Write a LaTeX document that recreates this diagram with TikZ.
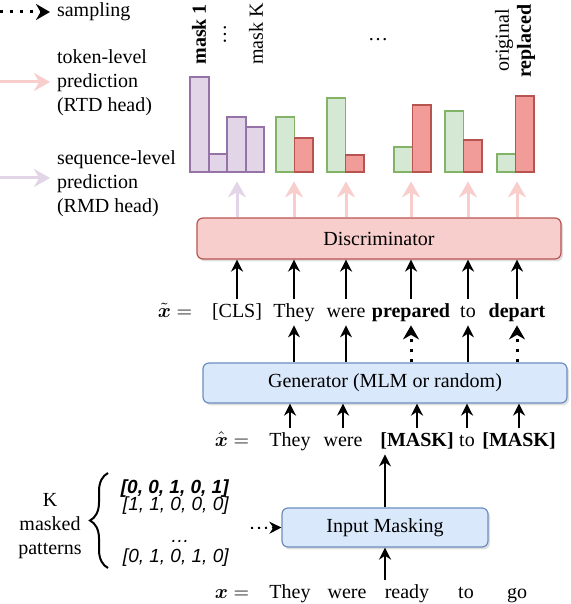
\documentclass[tikz,border=0pt]{standalone}
\usepackage{amsmath}
\usepackage{fontspec}
\setmainfont{Liberation Serif}
\newfontfamily\patfont{Liberation Sans}
\usetikzlibrary{arrows.meta,shadows,decorations.pathreplacing}
\definecolor{discfill}{HTML}{F8CECC}
\definecolor{discline}{HTML}{B85450}
\definecolor{genfill}{HTML}{DAE8FC}
\definecolor{genline}{HTML}{6C8EBF}
\definecolor{purfill}{HTML}{E1D5E7}
\definecolor{purline}{HTML}{9673A6}
\definecolor{grnfill}{HTML}{D5E8D4}
\definecolor{grnline}{HTML}{82B366}
\definecolor{redfill}{HTML}{F19C99}
\begin{document}
\begin{tikzpicture}[x=0.5pt,y=-0.5pt,
    box/.style={draw, rounded corners=3pt, line width=0.6pt,
      drop shadow={opacity=0.25, shadow xshift=1pt, shadow yshift=-1.2pt}},
    tok/.style={anchor=base, inner sep=2pt, text height=7pt, text depth=2pt},
    fw/.style={-{Stealth[length=6pt,width=6pt]}, line width=1pt},
    smp/.style={-{Stealth[length=7pt,width=8pt]}, line width=1.5pt, dash pattern=on 1.5pt off 3.5pt},
    rtd/.style={-{Stealth[length=8pt,width=9pt]}, line width=1.5pt, draw=discfill},
    rmd/.style={rtd, draw=purfill},
    pbar/.style={draw=purline, fill=purfill, line width=0.6pt},
    gbar/.style={draw=grnline, fill=grnfill, line width=0.6pt},
    rbar/.style={draw=discline, fill=redfill, line width=0.6pt},
    vlab/.style={rotate=90, anchor=west, inner sep=0pt},
    patt/.style={anchor=east, inner sep=0pt, font=\patfont\itshape\fontsize{9.5}{11}\selectfont}]
  \useasboundingbox (0,0) rectangle (570,604);

  % legend
  \coordinate (ls) at (0,12);
  \coordinate (lt) at (0,82);
  \coordinate (lr) at (0,178);
  \node[anchor=west] (lsamp) at (50,12) {sampling};
  \node[anchor=west, align=left] (lrtd) at (50,83) {token-level\\prediction\\(RTD head)};
  \node[anchor=west, align=left] (lrmd) at (50,184) {sequence-level\\prediction\\(RMD head)};
  \draw[smp] (ls) -- (lsamp.west);
  \draw[rtd] (lt) -- (lt -| lrtd.west);
  \draw[rmd] (lr) -- (lr -| lrmd.west);

  % bars
  \foreach \a/\b/\t in {190/209/77, 209/227/154, 227/246/117, 246/264/127}
    \draw[pbar] (\a,172) rectangle (\b,\t);
  \foreach \x/\g/\r in {276/117/138, 327/98/155, 394/147/105, 445/111/140, 497/154/96}{
    \draw[gbar] (\x,172) rectangle (\x+18.5,\g);
    \draw[rbar] (\x+18.5,172) rectangle (\x+37,\r);
  }
  \node[vlab, font=\bfseries] (m1) at (199,65) {mask 1};
  \node[rotate=90, inner sep=0pt] (vd) at (225,35) {\ldots};
  \node[vlab] (mk) at (256,65) {mask K};
  \node[inner sep=0pt] (hd) at (378,40) {\ldots};
  \node[vlab] (orig) at (504,72) {original};
  \node[vlab, font=\bfseries] (repl) at (526,78) {replaced};

  % boxes
  \node[box, fill=discfill, draw=discline, minimum width=182pt, minimum height=20.5pt] (disc) at (379,238.5) {Discriminator};
  \node[box, fill=genfill, draw=genline, minimum width=182pt, minimum height=20pt] (gen) at (385,383) {Generator (MLM or random)};
  \node[box, fill=genfill, draw=genline, minimum width=103pt, minimum height=19.5pt] (inmask) at (385,527.5) {Input Masking};

  % corrupted sequence
  \node[tok] (xt) at (175,317) {$\tilde{\boldsymbol{x}} =$};
  \node[tok] (cls) at (237,317) {[CLS]};
  \node[tok] (they2) at (294,317) {They};
  \node[tok] (were2) at (346,317) {were};
  \node[tok] (prep) at (411,317) {\textbf{prepared}};
  \node[tok] (to2) at (468,317) {to};
  \node[tok] (dep) at (517,317) {\textbf{depart}};

  % masked sequence
  \node[tok] (xh) at (232,446) {$\hat{\boldsymbol{x}} =$};
  \node[tok] (they1) at (290,446) {They};
  \node[tok] (were1) at (343,446) {were};
  \node[tok] (mask1) at (417,446) {\textbf{[MASK]}};
  \node[tok] (to1) at (467,446) {to};
  \node[tok] (mask2) at (519,446) {\textbf{[MASK]}};

  % original sequence
  \node[tok] (xo) at (232,598) {$\boldsymbol{x} =$};
  \node[tok] (they0) at (290,598) {They};
  \node[tok] (were0) at (347,598) {were};
  \node[tok] (ready) at (407,598) {ready};
  \node[tok] (to0) at (466,598) {to};
  \node[tok] (go) at (517,598) {go};

  % mask patterns
  \node[align=center] (kmp) at (50,526) {K\\masked\\patterns};
  \draw[decorate, decoration={brace, amplitude=9pt}, line width=1pt] (108,568) -- (108,473);
  \node[patt, font=\patfont\bfseries\itshape\fontsize{9.5}{11}\selectfont] (p1) at (229,489) {[0, 0, 1, 0, 1]};
  \node[patt] (p2) at (229,506) {[1, 1, 0, 0, 0]};
  \node[patt, anchor=base] (pd) at (180,542) {\ldots};
  \node[patt] (pk) at (229,558) {[0, 1, 0, 1, 0]};
  \coordinate (dm) at (251,528);
  \draw[-{Stealth[length=6pt,width=6pt]}, line width=1pt, dash pattern=on 1pt off 2.5pt] (dm) -- (inmask.west);

  % heads
  \foreach \b in {they2, were2, prep, to2, dep}
    \draw[rtd] (disc.north -| \b) -- ++(0,-36);
  \draw[rmd] (disc.north -| cls) -- ++(0,-36);

  \begin{scope}[fw]
    \foreach \b in {cls, they2, were2, prep, to2, dep}
      \draw (\b.north) -- (\b.north |- disc.south);
    \foreach \b in {they2, were2, to2}
      \draw (\b.south |- gen.north) -- (\b.south);
    \foreach \b in {they1, were1, mask1, to1, mask2}
      \draw (\b.north) -- (\b.north |- gen.south);
    \draw (inmask.north) -- (inmask.north |- mask1.south);
    \draw (inmask.south |- ready.north) -- (inmask.south);
  \end{scope}
  \foreach \b in {prep, dep}
    \draw[smp] (\b.south |- gen.north) -- (\b.south);
\end{tikzpicture}
\end{document}
